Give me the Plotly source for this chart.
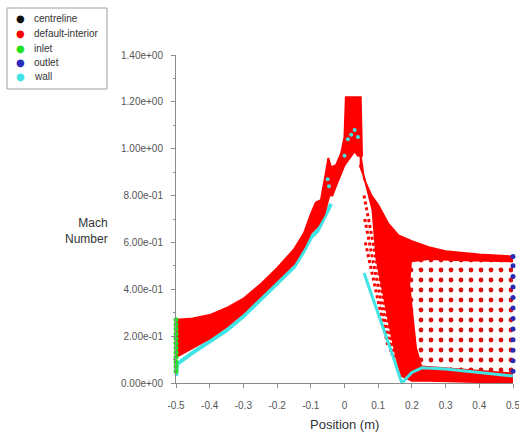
import plotly.graph_objects as go

# ---------------- data ----------------
x_ticks = [-0.5, -0.4, -0.3, -0.2, -0.1, 0.0, 0.1, 0.2, 0.3, 0.4, 0.5]
x_ticktext = ["-0.5", "-0.4", "-0.3", "-0.2", "-0.1", "0", "0.1", "0.2", "0.3", "0.4", "0.5"]
y_ticks = [0.0, 0.2, 0.4, 0.6, 0.8, 1.0, 1.2, 1.4]
y_ticktext = ["0.00e+00", "2.00e-01", "4.00e-01", "6.00e-01", "8.00e-01",
              "1.00e+00", "1.20e+00", "1.40e+00"]

series_names = ["centreline", "default-interior", "inlet", "outlet", "wall"]
series_colors = ["#111111", "#ff0000", "#22e022", "#2a2ab8", "#40e4e4"]

# default-interior: rising band + peak (outline, upper edge then lower edge)
band_x = [-0.5, -0.45, -0.4, -0.35, -0.3, -0.25, -0.2, -0.15, -0.12, -0.1, -0.085,
          -0.07, -0.055, -0.048, -0.04, -0.025, -0.01, 0.0, 0.004, 0.048, 0.052,
          0.04, 0.03, 0.015, 0.0, -0.02, -0.036, -0.045, -0.06, -0.08, -0.1,
          -0.12, -0.15, -0.2, -0.25, -0.3, -0.35, -0.4, -0.45, -0.5]
band_y = [0.27, 0.275, 0.29, 0.32, 0.36, 0.42, 0.49, 0.57, 0.64, 0.72, 0.77,
          0.78, 0.90, 0.96, 0.92, 0.93, 0.98, 1.05, 1.22, 1.22, 0.97,
          0.97, 0.99, 0.96, 0.93, 0.86, 0.80, 0.80, 0.72, 0.67, 0.64,
          0.58, 0.51, 0.44, 0.37, 0.30, 0.24, 0.19, 0.15, 0.11]

# default-interior: region downstream of the peak (solid red)
down_x = [0.045, 0.058, 0.08, 0.1, 0.13, 0.16, 0.2, 0.25, 0.3, 0.4, 0.5,
          0.5, 0.25, 0.2, 0.17, 0.16, 0.14, 0.113, 0.095, 0.083, 0.07, 0.058, 0.045]
down_y = [1.0, 0.87, 0.80, 0.76, 0.68, 0.63, 0.605, 0.58, 0.562, 0.548, 0.54,
          0.0, 0.01, 0.01, 0.03, 0.07, 0.20, 0.39, 0.53, 0.74, 0.82, 0.88, 0.93]

# default-interior: dotted (sparse) zone near the outlet
dots_x = [0.2, 0.25, 0.35, 0.5, 0.5, 0.4, 0.3, 0.23, 0.215, 0.205, 0.195]
dots_y = [0.515, 0.525, 0.52, 0.515, 0.045, 0.055, 0.065, 0.075, 0.15, 0.30, 0.42]

# default-interior: dotted rows leaving the shock
streak_x = [[0.058, 0.15], [0.06, 0.14], [0.062, 0.13]]
streak_y = [[0.80, 0.10], [0.70, 0.12], [0.60, 0.15]]

# wall
wall_lo_x = [-0.5, -0.497, -0.45, -0.4, -0.35, -0.3, -0.25, -0.2, -0.15, -0.12,
             -0.1, -0.08, -0.06, -0.04]
wall_lo_y = [0.03, 0.08, 0.13, 0.175, 0.225, 0.285, 0.355, 0.425, 0.495, 0.565,
             0.62, 0.65, 0.705, 0.765]
wall_dn_x = [0.058, 0.1, 0.14, 0.17, 0.2, 0.23, 0.3, 0.4, 0.5]
wall_dn_y = [0.47, 0.30, 0.13, 0.0, 0.045, 0.065, 0.06, 0.045, 0.03]
wall_pts_x = [-0.05, -0.046, 0.0, 0.01, 0.03, 0.04, 0.02]
wall_pts_y = [0.87, 0.84, 0.97, 1.04, 1.08, 1.05, 1.06]

# inlet / outlet
inlet_x = [-0.5] * 12
inlet_y = [0.05, 0.07, 0.09, 0.11, 0.13, 0.15, 0.17, 0.19, 0.21, 0.23, 0.25, 0.27]
outlet_x = [0.5] * 12
outlet_y = [0.54, 0.50, 0.455, 0.41, 0.365, 0.32, 0.275, 0.23, 0.185, 0.14, 0.095, 0.05]

# ---------------- figure ----------------
RED = series_colors[1]
CYAN = series_colors[4]
fig = go.Figure()

fig.add_trace(go.Scatter(x=down_x, y=down_y, mode="lines", fill="toself",
                         fillcolor=RED, line=dict(color=RED, width=2),
                         name=series_names[1], showlegend=False, hoverinfo="skip"))
fig.add_trace(go.Scatter(x=dots_x, y=dots_y, mode="lines", fill="toself",
                         fillcolor="white", line=dict(color="white", width=0),
                         fillpattern=dict(shape=".", fgcolor="#d81010", bgcolor="white",
                                          fgopacity=1, size=10, solidity=0.18),
                         showlegend=False, hoverinfo="skip"))
for sx, sy in zip(streak_x, streak_y):
    fig.add_trace(go.Scatter(x=sx, y=sy, mode="lines",
                             line=dict(color=RED, width=3, dash="dot"),
                             showlegend=False, hoverinfo="skip"))
fig.add_trace(go.Scatter(x=wall_lo_x, y=wall_lo_y, mode="lines",
                         line=dict(color=CYAN, width=4), name=series_names[4],
                         showlegend=False, hoverinfo="skip"))
fig.add_trace(go.Scatter(x=wall_dn_x, y=wall_dn_y, mode="lines",
                         line=dict(color=CYAN, width=3), showlegend=False,
                         hoverinfo="skip"))
fig.add_trace(go.Scatter(x=band_x, y=band_y, mode="lines", fill="toself",
                         fillcolor=RED, line=dict(color=RED, width=2),
                         showlegend=False, hoverinfo="skip"))
fig.add_trace(go.Scatter(x=wall_pts_x, y=wall_pts_y, mode="markers",
                         marker=dict(color=CYAN, size=4), showlegend=False,
                         hoverinfo="skip"))
fig.add_trace(go.Scatter(x=inlet_x, y=inlet_y, mode="markers",
                         marker=dict(color=series_colors[2], size=5),
                         name=series_names[2], showlegend=False, cliponaxis=False,
                         hoverinfo="skip"))
fig.add_trace(go.Scatter(x=outlet_x, y=outlet_y, mode="markers",
                         marker=dict(color=series_colors[3], size=5),
                         name=series_names[3], showlegend=False, cliponaxis=False,
                         hoverinfo="skip"))

# ---- compact legend box (drawn in paper coordinates) ----
PLOT_L, PLOT_R, PLOT_T, PLOT_B = 176, 513, 55, 383


def px_to_paper(px, py):
    return (px - PLOT_L) / (PLOT_R - PLOT_L), (PLOT_B - py) / (PLOT_B - PLOT_T)


bx0, by0 = px_to_paper(7, 8)
bx1, by1 = px_to_paper(107, 89)
shapes = [dict(type="rect", xref="paper", yref="paper", x0=bx0, y0=by1, x1=bx1, y1=by0,
               line=dict(color="#a0a0a0", width=1), fillcolor="white", layer="above")]

annotations = []
for i, (name, col) in enumerate(zip(series_names, series_colors)):
    row_y = 19 + i * 14.5
    mx, my = px_to_paper(20, row_y)
    tx, ty = px_to_paper(32, row_y)
    annotations.append(dict(text="●", xref="paper", yref="paper", x=mx, y=my,
                            xanchor="center", yanchor="middle", showarrow=False,
                            font=dict(size=10, color=col, family="DejaVu Sans")))
    annotations.append(dict(text=name, xref="paper", yref="paper", x=tx, y=ty,
                            xanchor="left", yanchor="middle", showarrow=False,
                            font=dict(size=10, color="#333")))

annotations += [
    dict(text="Mach<br>Number", xref="paper", yref="paper",
         x=-0.196, y=0.463, xanchor="right", yanchor="middle", align="right",
         showarrow=False, font=dict(size=12, color="#333")),
    dict(text="Position (m)", xref="paper", yref="paper",
         x=0.5, y=-0.125, xanchor="center", yanchor="middle",
         showarrow=False, font=dict(size=13, color="#333")),
]

axis_common = dict(showgrid=False, zeroline=False, showline=True,
                   linecolor="#8a8a8a", linewidth=1, ticks="outside",
                   ticklen=4, tickcolor="#8a8a8a", ticklabeloverflow="allow",
                   automargin=False,
                   tickfont=dict(family="Liberation Sans, Arial", size=10, color="#555"))

fig.update_xaxes(range=[-0.5, 0.5], tickvals=x_ticks, ticktext=x_ticktext,
                 ticklabelstandoff=9, **axis_common)
fig.update_yaxes(range=[0, 1.4], tickvals=y_ticks, ticktext=y_ticktext,
                 ticklabelstandoff=6,
                 minor=dict(ticks="outside", ticklen=2, tickcolor="#8a8a8a",
                            tickvals=[0.1, 0.3, 0.5, 0.7, 0.9, 1.1, 1.3]),
                 **axis_common)

fig.update_layout(
    width=519, height=444,
    margin=dict(l=PLOT_L, r=519 - PLOT_R, t=PLOT_T, b=444 - PLOT_B, autoexpand=False),
    paper_bgcolor="white", plot_bgcolor="white",
    font=dict(family="Liberation Sans, Arial", color="#333"),
    showlegend=False,
    shapes=shapes,
    annotations=annotations,
)

fig.write_html("out.html")
